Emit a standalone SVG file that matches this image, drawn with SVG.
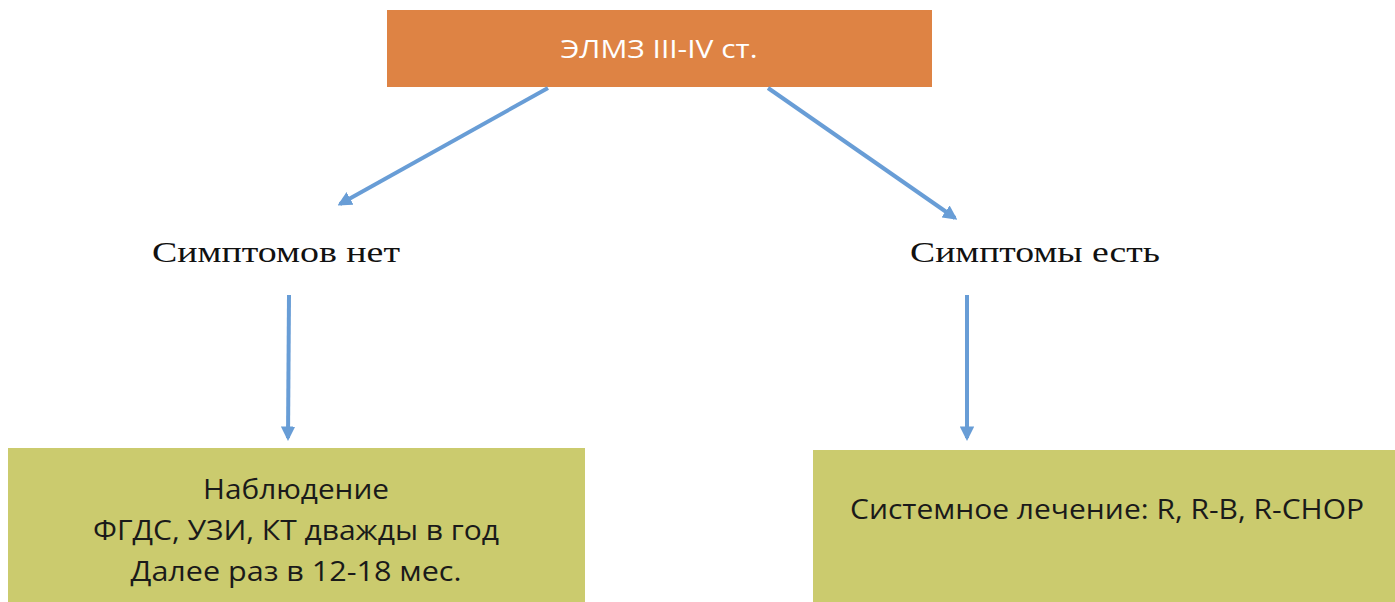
<svg xmlns="http://www.w3.org/2000/svg" width="1395" height="602" viewBox="0 0 1395 602">
<style>
.conn{stroke:#689DD6;stroke-width:4;fill:none;marker-end:url(#ah)}
.box-text{font-family:"Open Sans","Liberation Sans",sans-serif;fill:#1a1a1a;text-anchor:middle}
.lbl{font-family:"Liberation Serif","DejaVu Serif",serif;fill:#111;text-anchor:start}
</style>
<defs>
<marker id="ah" viewBox="0 0 10 10" refX="8" refY="5" markerWidth="3.6" markerHeight="3.6" orient="auto" markerUnits="strokeWidth">
<path d="M0,0 L10,5 L0,10 z" fill="#689DD6"/>
</marker>
</defs>
<rect width="1395" height="602" fill="#ffffff"/>
<g id="node-top">
<rect x="387" y="10" width="545" height="77" fill="#DE8344"/>
<text x="659" y="58" font-family="Open Sans, Liberation Sans, sans-serif" font-size="25" fill="#ffffff" text-anchor="middle" textLength="197" lengthAdjust="spacingAndGlyphs">ЭЛМЗ III-IV ст.</text>
</g>
<g id="node-nosym">
<text class="lbl" x="152" y="262" font-size="30" textLength="248" lengthAdjust="spacingAndGlyphs">Симптомов нет</text>
</g>
<g id="node-sym">
<text class="lbl" x="910" y="262" font-size="30" textLength="250" lengthAdjust="spacingAndGlyphs">Симптомы есть</text>
</g>
<g id="node-observe">
<rect x="8" y="448" width="577" height="160" fill="#CBCB6E"/>
<text class="box-text" x="296" y="499" font-size="27" textLength="186" lengthAdjust="spacingAndGlyphs">Наблюдение</text>
<text class="box-text" x="296" y="540" font-size="27" textLength="406" lengthAdjust="spacingAndGlyphs">ФГДС, УЗИ, КТ дважды в год</text>
<text class="box-text" x="296" y="581" font-size="27" textLength="331" lengthAdjust="spacingAndGlyphs">Далее раз в 12-18 мес.</text>
</g>
<g id="node-treat">
<rect x="813" y="450" width="590" height="160" fill="#CBCB6E"/>
<text class="box-text" x="1107" y="519" font-size="27" textLength="514" lengthAdjust="spacingAndGlyphs">Системное лечение: R, R-B, R-CHOP</text>
</g>
<g id="connectors">
<line class="conn" x1="548" y1="88" x2="340" y2="204"/>
<line class="conn" x1="768" y1="88" x2="955" y2="218"/>
<line class="conn" x1="289" y1="295" x2="288" y2="438"/>
<line class="conn" x1="967" y1="295" x2="967" y2="438"/>
</g>
</svg>
